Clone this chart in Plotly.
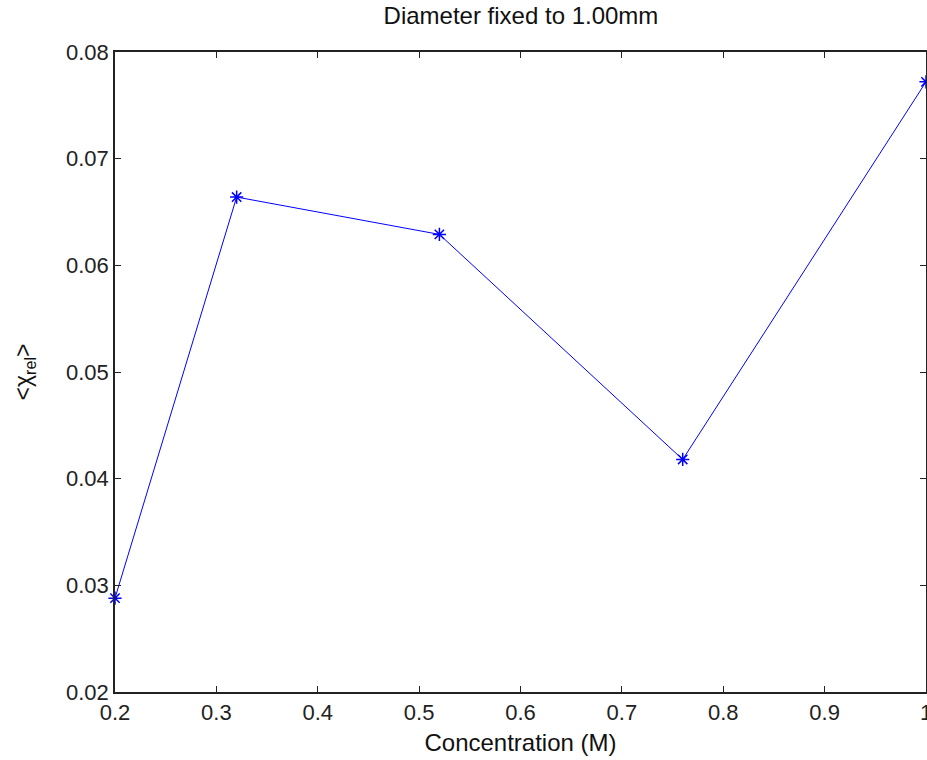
import plotly.graph_objects as go

concentration = [0.2, 0.32, 0.52, 0.76, 1.0]
chi_rel = [0.0288, 0.0664, 0.0629, 0.0418, 0.0772]
x_ticks = [0.2, 0.3, 0.4, 0.5, 0.6, 0.7, 0.8, 0.9, 1.0]
x_tick_labels = ["0.2", "0.3", "0.4", "0.5", "0.6", "0.7", "0.8", "0.9", "1"]
y_ticks = [0.02, 0.03, 0.04, 0.05, 0.06, 0.07, 0.08]
y_tick_labels = ["0.02", "0.03", "0.04", "0.05", "0.06", "0.07", "0.08"]

font_family = "Liberation Sans, Arial, sans-serif"

fig = go.Figure()
fig.add_trace(go.Scatter(
    x=concentration, y=chi_rel, mode="lines+markers",
    line=dict(color="#0000ff", width=1),
    marker=dict(symbol="asterisk-open", size=11, color="#0000ff",
                line=dict(color="#0000ff", width=1.5)),
    showlegend=False, cliponaxis=False,
))

axis_common = dict(
    showgrid=False, zeroline=False, showline=True, linecolor="#222",
    linewidth=1.5, mirror="ticks", ticks="inside", ticklen=6,
    tickcolor="#222", ticklabeloverflow="allow", automargin=False,
    tickfont=dict(family=font_family, size=22, color="#222"),
)

fig.update_layout(
    width=927, height=760,
    margin=dict(l=115, r=1, t=52, b=68),
    paper_bgcolor="white", plot_bgcolor="white",
    title=dict(text="Diameter fixed to 1.00mm", x=0.562, xanchor="center",
               y=0.98, yanchor="middle",
               font=dict(family=font_family, size=24, color="#111")),
    xaxis=dict(range=[0.2, 1.0], tickvals=x_ticks, ticktext=x_tick_labels,
               title=dict(text="Concentration (M)", standoff=10,
                          font=dict(family=font_family, size=24, color="#111")),
               **axis_common),
    yaxis=dict(range=[0.02, 0.08], tickvals=y_ticks, ticktext=y_tick_labels,
               title=dict(text="&lt;χ<sub>rel</sub>&gt;", standoff=28,
                          font=dict(family=font_family, size=23, color="#111")),
               **axis_common),
)

fig.write_html("out.html")
